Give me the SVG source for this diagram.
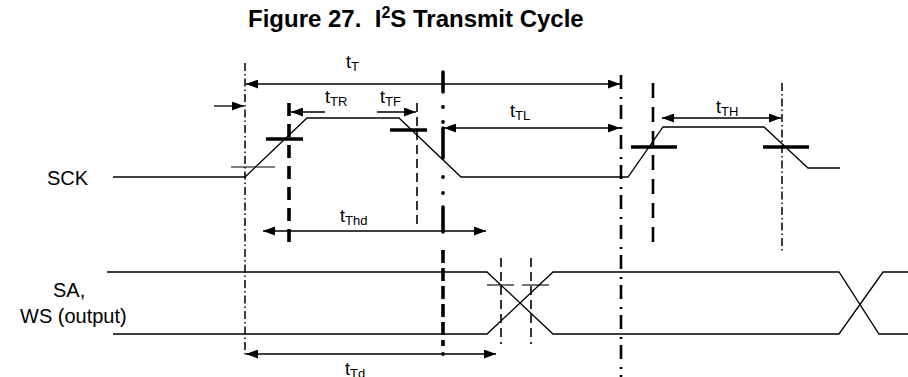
<svg xmlns="http://www.w3.org/2000/svg" width="908" height="377" viewBox="0 0 908 377">
<defs>
<marker id="ah" viewBox="0 0 12 9" refX="12" refY="4.5" markerWidth="12" markerHeight="9" markerUnits="userSpaceOnUse" orient="auto-start-reverse">
<path d="M0,0 L12,4.5 L0,9 z" fill="#000"/>
</marker>
</defs>
<style>
.sig{fill:none;stroke:#000;stroke-width:1.3}
.thin{stroke:#000;stroke-width:1.1}
.thick{stroke:#000;stroke-width:3.6}
.arr{fill:none;stroke:#000;stroke-width:1.3;marker-end:url(#ah)}
.arr2{fill:none;stroke:#000;stroke-width:1.3;marker-start:url(#ah);marker-end:url(#ah)}
.dd{fill:none;stroke:#000;stroke-width:1.5;stroke-dasharray:8 3 1.5 3}
.dsh{fill:none;stroke:#000;stroke-width:1.6;stroke-dasharray:9 5}
.tdsh{fill:none;stroke:#000;stroke-width:3.6;stroke-dasharray:13 8}
.mdsh{fill:none;stroke:#000;stroke-width:2.6;stroke-dasharray:15 9}
.mdd{fill:none;stroke:#000;stroke-width:2.6;stroke-dasharray:14 8 2 6}
.dot{fill:#000}
text{font-family:"Liberation Sans",Arial,sans-serif;fill:#000}
.lbl{font-size:18px}
.sub{font-size:13px}
.sigl{font-size:20px}
</style>

<g id="title">
<text x="248" y="27" font-size="24" font-weight="bold" xml:space="preserve">Figure 27.  I<tspan font-size="16" dy="-9">2</tspan><tspan dy="9">S Transmit Cycle</tspan></text>
</g>

<g id="signal-labels">
<text class="sigl" x="47" y="185">SCK</text>
<text class="sigl" x="53" y="297">SA,</text>
<text class="sigl" x="20" y="323">WS (output)</text>
</g>

<g id="sck">
<path class="sig" d="M113,177 L245,177 L307,118 L399,118 L461,177 L628,177 L663,127 L764,127 L808,168 L840,168"/>
</g>

<g id="sa-ws">
<path class="sig" d="M107,272 L487,272 L553,334 L839,334 L883,272 L908,272"/>
<path class="sig" d="M113,334 L487,334 L553,272 L839,272 L879,334 L908,334"/>
</g>

<g id="thresholds">
<line class="thin" x1="231" y1="167" x2="275" y2="167"/>
<line class="thick" x1="266" y1="139" x2="303" y2="139"/>
<line class="thick" x1="390" y1="130" x2="427" y2="130"/>
<line class="thick" x1="631" y1="147" x2="677" y2="147"/>
<line class="thick" x1="763" y1="147" x2="809" y2="147"/>
<line class="thin" x1="487" y1="285" x2="514" y2="285"/>
<line class="thin" x1="522" y1="285" x2="549" y2="285"/>
</g>

<g id="timing-lines">
<line class="dd" x1="245" y1="63" x2="245" y2="355"/>
<line class="tdsh" x1="289" y1="103" x2="289" y2="250"/>
<line class="dsh" x1="417" y1="103" x2="417" y2="228"/>
<g id="v4">
<line class="thick" x1="443" y1="72" x2="443" y2="92" stroke-linecap="round"/>
<line class="thick" x1="443" y1="128" x2="443" y2="158" stroke-linecap="round"/>
<line class="thick" x1="443" y1="207" x2="443" y2="232" stroke-linecap="round"/>
<line x1="443" y1="250" x2="443" y2="346" stroke="#000" stroke-width="3.6" stroke-dasharray="13 5"/>
<circle class="dot" cx="443" cy="107" r="1.9"/>
<circle class="dot" cx="443" cy="122" r="1.9"/>
<circle class="dot" cx="443" cy="177" r="1.9"/>
<circle class="dot" cx="443" cy="193" r="1.9"/>
<circle class="dot" cx="443" cy="354" r="1.9"/>
</g>
<line class="mdd" x1="621" y1="75" x2="621" y2="377"/>
<line class="mdsh" x1="653" y1="83" x2="653" y2="246"/>
<line class="dd" x1="782" y1="83" x2="782" y2="252"/>
<line class="dsh" x1="501" y1="258" x2="501" y2="344" stroke-dasharray="8 4"/>
<line class="dsh" x1="531" y1="258" x2="531" y2="344" stroke-dasharray="8 4"/>
</g>

<g id="connectors">
<line class="arr2" x1="246" y1="84" x2="620" y2="84"/>
<line class="arr" x1="214" y1="106" x2="244" y2="106"/>
<line class="arr" x1="325" y1="112" x2="291" y2="112"/>
<line class="arr" x1="377" y1="112" x2="416" y2="112"/>
<line class="arr2" x1="444" y1="128" x2="620" y2="128"/>
<line class="arr2" x1="662" y1="118" x2="781" y2="118"/>
<line class="arr2" x1="263" y1="231" x2="486" y2="231"/>
<line class="arr2" x1="246" y1="354" x2="496" y2="354"/>
</g>

<g id="timing-labels">
<text class="lbl" x="346" y="68">t<tspan class="sub" dy="3">T</tspan></text>
<text class="lbl" x="325" y="103">t<tspan class="sub" dy="3">TR</tspan></text>
<text class="lbl" x="380" y="103">t<tspan class="sub" dy="3">TF</tspan></text>
<text class="lbl" x="510" y="117">t<tspan class="sub" dy="3">TL</tspan></text>
<text class="lbl" x="716" y="113">t<tspan class="sub" dy="3">TH</tspan></text>
<text class="lbl" x="340" y="222">t<tspan class="sub" dy="3">Thd</tspan></text>
<text class="lbl" x="345" y="375">t<tspan class="sub" dy="3">Td</tspan></text>
</g>
</svg>
